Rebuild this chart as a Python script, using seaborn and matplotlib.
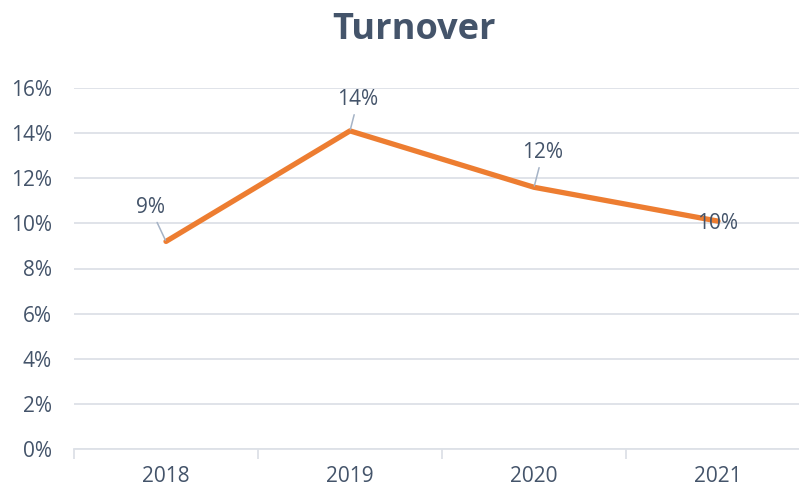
import matplotlib
matplotlib.use("Agg")
import matplotlib.pyplot as plt
import seaborn as sns
import pandas as pd
from matplotlib.ticker import FuncFormatter

# dados do grafico
anos = ["2018", "2019", "2020", "2021"]
turnover = [0.092, 0.141, 0.116, 0.101]
rotulos = ["9%", "14%", "12%", "10%"]

df = pd.DataFrame({"ano": anos, "turnover": turnover})

sns.set_theme(style="white")
plt.rcParams["font.family"] = ["Open Sans", "DejaVu Sans"]

cor_texto = "#44546A"
cor_grade = "#DDE1E7"
laranja = "#ED7D31"

fig = plt.figure(figsize=(7.99, 4.88), dpi=100)
ax = fig.add_axes([74 / 799, 39 / 488, 736 / 799, 361 / 488])

sns.lineplot(data=df, x="ano", y="turnover", ax=ax, color=laranja,
             linewidth=3.8, solid_capstyle="round", sort=False)

ax.set_ylim(0, 0.16)
ax.set_xlim(-0.5, 3.5)
ax.set_yticks([i / 100 for i in range(0, 17, 2)])
ax.yaxis.set_major_formatter(FuncFormatter(lambda v, p: f"{v * 100:.0f}%"))
ax.grid(axis="y", color=cor_grade, linewidth=1.3)
ax.set_axisbelow(True)

for s in ["left", "right", "top"]:
    ax.spines[s].set_visible(False)
ax.spines["bottom"].set_color(cor_grade)
ax.spines["bottom"].set_linewidth(1.3)

# marcas entre categorias (estilo excel)
ax.set_xticks([-0.5, 0.5, 1.5, 2.5, 3.5], minor=True)
ax.tick_params(axis="x", which="minor", length=7, width=1.3, color=cor_grade, bottom=True)
ax.tick_params(axis="x", which="major", length=0, pad=12, labelsize=15, labelcolor=cor_texto)
ax.tick_params(axis="y", length=0, pad=16, labelsize=15, labelcolor=cor_texto)
ax.set_xlabel("")
ax.set_ylabel("")

# rotulos de dados com linha guia
deslocamentos = [(-11.5, 24.5), (5.8, 22.5), (6.5, 25), (0, -1.5)]
for i, (r, d) in enumerate(zip(rotulos, deslocamentos)):
    guia = None
    if i < 3:
        guia = dict(arrowstyle="-", color="#A5B3C6", lw=1.1, shrinkA=1, shrinkB=1)
    ax.annotate(r, xy=(i, turnover[i]), xytext=d, textcoords="offset points",
                ha="center", va="center", fontsize=15, color=cor_texto,
                arrowprops=guia)

fig.text(414 / 799, 1 - 30 / 488, "Turnover", ha="center", va="center",
         fontsize=26, fontweight="bold", color=cor_texto)

plt.savefig("out.png", dpi=100)
